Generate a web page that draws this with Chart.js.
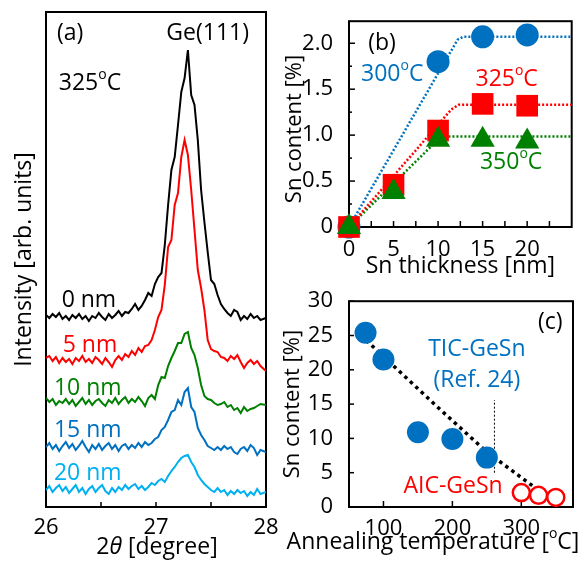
<!DOCTYPE html>
<html>
<head>
<meta charset="utf-8">
<script src="https://cdn.jsdelivr.net/npm/chart.js@4"></script>
<style>
  body { margin: 0; background: #fff; }
  #wrap { position: relative; width: 587px; height: 566px; overflow: hidden; }
  canvas { position: absolute; display: block; }
</style>
</head>
<body>
<div id="wrap">
  <canvas id="chartA" width="280" height="566" style="left:0;top:0"></canvas>
  <canvas id="chartB" width="307" height="280" style="left:280px;top:0"></canvas>
  <canvas id="chartC" width="307" height="286" style="left:280px;top:280px"></canvas>
</div>
<script>
// ---- (a) XRD profiles around Ge(111), offset per Sn thickness ----
const twoTheta = [
  26.00, 26.03, 26.06, 26.09, 26.12, 26.15, 26.18, 26.21, 26.24, 26.27,
  26.30, 26.33, 26.36, 26.39, 26.42, 26.45, 26.48, 26.51, 26.54, 26.57,
  26.60, 26.63, 26.66, 26.69, 26.72, 26.75, 26.78, 26.81, 26.84, 26.87,
  26.90, 26.93, 26.96, 26.99, 27.02, 27.05, 27.08, 27.11, 27.14, 27.17,
  27.20, 27.23, 27.26, 27.29, 27.32, 27.35, 27.38, 27.41, 27.44, 27.47,
  27.50, 27.53, 27.56, 27.59, 27.62, 27.65, 27.68, 27.71, 27.74, 27.77,
  27.80, 27.83, 27.86, 27.89, 27.92, 27.95, 28.00
];
const int0nm = [
  192, 189, 193, 190, 194, 188, 191, 187, 192, 189,
  193, 188, 191, 186, 191, 189, 194, 190, 187, 193,
  189, 192, 196, 191, 195, 194, 198, 203, 197, 201,
  207, 214, 211, 223, 230, 234, 262, 302, 337, 350,
  382, 415, 429, 457, 412, 402, 367, 317, 285, 255,
  227, 223, 212, 203, 198, 194, 191, 197, 195, 187,
  191, 188, 193, 189, 191, 187, 189
];
const int5nm = [
  149, 151, 146, 150, 144, 149, 145, 148, 143, 149,
  146, 151, 145, 148, 144, 150, 147, 143, 149, 145,
  140, 147, 151, 147, 153, 150, 156, 152, 159, 155,
  161, 162, 167, 177, 190, 197, 222, 260, 267, 302,
  314, 350, 367, 352, 317, 277, 237, 219, 197, 167,
  158, 156, 155, 150, 149, 146, 151, 148, 152, 145,
  139, 144, 147, 143, 146, 141, 136
];
const int10nm = [
  109, 105, 108, 102, 106, 104, 108, 103, 107, 101,
  105, 109, 103, 107, 102, 106, 108, 104, 101, 107,
  104, 109, 103, 107, 110, 104, 108, 105, 110, 106,
  101, 109, 112, 108, 122, 130, 129, 141, 149, 156,
  164, 164, 173, 175, 159, 152, 139, 122, 111, 108,
  107, 104, 102, 103, 105, 100, 102, 97, 99, 94,
  100, 96, 98, 99, 101, 103, 102
];
const int15nm = [
  60, 64, 58, 62, 56, 61, 65, 59, 63, 57,
  61, 66, 60, 55, 62, 58, 63, 57, 61, 64,
  58, 62, 56, 61, 63, 58, 62, 59, 64, 60,
  65, 62, 64, 68, 70, 77, 80, 87, 95, 97,
  107, 102, 115, 119, 100, 95, 79, 72, 67, 61,
  59, 57, 60, 57, 61, 58, 60, 55, 53, 58,
  60, 56, 62, 59, 52, 57, 55
];
const int20nm = [
  17, 21, 15, 19, 22, 16, 20, 14, 18, 22,
  15, 19, 13, 18, 21, 15, 19, 22, 16, 13,
  19, 15, 20, 17, 22, 18, 21, 23, 18, 21,
  17, 20, 24, 22, 26, 28, 25, 31, 36, 40,
  45, 49, 51, 52, 45, 40, 32, 27, 23, 20,
  17, 15, 19, 15, 17, 12, 16, 13, 17, 14,
  16, 11, 15, 12, 18, 13, 15
];
const xTicksA = [26, 26.5, 27, 27.5, 28];
const xLabelsA = ['26', '', '27', '', '28'];

// ---- (b) Sn content vs Sn thickness ----
const thick300 = [0, 10, 15, 20];
const sn300 = [0, 1.80, 2.07, 2.09];
const thick325 = [0, 5, 10, 15, 20];
const sn325 = [0, 0.46, 1.05, 1.34, 1.32];
const thick350 = [0, 5, 10, 15, 20];
const sn350 = [0, 0.38, 0.95, 0.95, 0.93];
const fit300X = [0, 12.2, 12.8, 25];
const fit300Y = [0, 2.04, 2.07, 2.07];
const fit325X = [0, 11.5, 12.3, 25];
const fit325Y = [0, 1.28, 1.33, 1.33];
const fit350X = [0, 10.1, 10.6, 25];
const fit350Y = [0, 0.96, 0.985, 0.985];
const xTicksB = [0, 2.5, 5, 7.5, 10, 12.5, 15, 17.5, 20, 22.5];
const xLabelsB = ['0', '', '5', '', '10', '', '15', '', '20', ''];
const yTicksB = [0, 0.25, 0.5, 0.75, 1, 1.25, 1.5, 1.75, 2];
const yLabelsB = ['0', '', '0.5', '', '1.0', '', '1.5', '', '2.0'];

// ---- (c) Sn content vs annealing temperature ----
const ticTemp = [74, 100, 150, 200, 250];
const ticSn = [25.4, 21.5, 10.9, 9.9, 7.2];
const aicTemp = [300, 325, 350];
const aicSn = [2.1, 1.7, 1.4];
const trendTemp = [75, 177, 249, 316];
const trendSn = [24.3, 14.7, 8.1, 3.1];
const markTemp = [261, 261];
const markSn = [5, 15.6];
const xTicksC = [100, 200, 300];
const xLabelsC = ['100', '200', '300'];
const yTicksC = [0, 5, 10, 15, 20, 25, 30];
const yLabelsC = ['0', '5', '10', '15', '20', '25', '30'];

const FONT = '"Open Sans", sans-serif';
Chart.defaults.font.family = FONT;
Chart.defaults.font.size = 22;
Chart.defaults.color = '#000';

const pts = (xs, ys) => xs.map((x, i) => ({ x: x, y: ys[i] }));

// text with optional superscript / italic parts, centred on (cx, cy)
function drawRich(ctx, parts, cx, cy, color, size, rot) {
  const segs = parts.map(p => Array.isArray(p) ? { t: p[0], kind: p[1] } : { t: p, kind: '' });
  const fontFor = k => k === 'sup' ? Math.round(size * 0.62) + 'px ' + FONT
    : k === 'i' ? 'italic ' + size + 'px ' + FONT : size + 'px ' + FONT;
  let total = 0;
  segs.forEach(s => { ctx.font = fontFor(s.kind); s.w = ctx.measureText(s.t).width; total += s.w; });
  ctx.save();
  ctx.translate(cx, cy);
  if (rot) ctx.rotate(rot);
  ctx.fillStyle = color;
  ctx.textBaseline = 'middle';
  ctx.textAlign = 'left';
  let x = -total / 2;
  segs.forEach(s => {
    ctx.font = fontFor(s.kind);
    ctx.fillText(s.t, x, s.kind === 'sup' ? -size * 0.36 : 0);
    x += s.w;
  });
  ctx.restore();
}

// box frame, inward tick marks and free text
const framePlugin = {
  id: 'frame',
  beforeDatasetsDraw(chart, args, opts) {
    const { ctx, chartArea: a, scales } = chart;
    ctx.save();
    ctx.strokeStyle = '#000';
    ctx.lineWidth = 1.5;
    (opts.tickAxes || []).forEach(ax => {
      const s = scales[ax.id];
      s.ticks.forEach(t => {
        const p = s.getPixelForValue(t.value);
        const len = t.label ? ax.major : ax.minor;
        ctx.beginPath();
        if (ax.id === 'x') { ctx.moveTo(p, a.bottom); ctx.lineTo(p, a.bottom - len); }
        else { ctx.moveTo(a.left, p); ctx.lineTo(a.left + len, p); }
        ctx.stroke();
      });
    });
    ctx.lineWidth = 2;
    ctx.strokeRect(a.left, a.top, a.right - a.left, a.bottom - a.top);
    ctx.restore();
  },
  afterDatasetsDraw(chart, args, opts) {
    const { ctx, scales } = chart;
    (opts.notes || []).forEach(n => drawRich(ctx, n.parts, scales.x.getPixelForValue(n.x),
      scales.y.getPixelForValue(n.y), n.color, 23));
    (opts.titles || []).forEach(n => drawRich(ctx, n.parts, n.px, n.py, '#000', n.size, n.rot));
  }
};

function axis(min, max, ticks, labels, fitSize, horizontal, pad) {
  return {
    type: 'linear', min: min, max: max,
    afterFit: s => { if (horizontal) s.height = fitSize; else s.width = fitSize; },
    afterBuildTicks: s => { s.ticks = ticks.map(v => ({ value: v })); },
    grid: { display: false }, border: { display: false },
    ticks: { autoSkip: false, maxRotation: 0, padding: pad, display: labels.length > 0,
      callback: (v, i) => labels[i] }
  };
}

const baseOptions = (padding, scales, frame) => ({
  responsive: false, animation: false, events: [],
  layout: { padding: padding },
  plugins: { legend: { display: false }, tooltip: { enabled: false }, frame: frame },
  scales: scales
});

// (a)
const trace = (vals, color) => ({
  data: pts(twoTheta, vals), showLine: true, borderColor: color,
  borderWidth: 2, pointRadius: 0, tension: 0
});
const yA = axis(0, 495, [], [], 46, false, 0);
yA.title = { display: true, text: 'Intensity [arb. units]', font: { size: 23 }, padding: { top: 11, bottom: 0 } };
new Chart(document.getElementById('chartA'), {
  type: 'scatter',
  data: { datasets: [
    trace(int0nm, '#000000'), trace(int5nm, '#FF0000'), trace(int10nm, '#008000'),
    trace(int15nm, '#0070C0'), trace(int20nm, '#00B0F0')
  ] },
  options: baseOptions({ left: 0, top: 12, right: 14, bottom: 0 },
    { x: axis(26, 28, xTicksA, xLabelsA, 59, true, 0), y: yA },
    {
      tickAxes: [{ id: 'x', major: 5, minor: 5 }],
      notes: [
        { parts: ['(a)'], x: 26.22, y: 474, color: '#000' },
        { parts: ['Ge(111)'], x: 27.47, y: 474, color: '#000' },
        { parts: ['325', ['o', 'sup'], 'C'], x: 26.40, y: 424, color: '#000' },
        { parts: ['0 nm'], x: 26.39, y: 207, color: '#000' },
        { parts: ['5 nm'], x: 26.40, y: 162, color: '#FF0000' },
        { parts: ['10 nm'], x: 26.38, y: 119, color: '#008000' },
        { parts: ['15 nm'], x: 26.38, y: 77, color: '#0070C0' },
        { parts: ['20 nm'], x: 26.38, y: 34, color: '#00B0F0' }
      ],
      titles: [{ parts: ['2', ['θ', 'i'], ' [degree]'], px: 157, py: 547, size: 23 }]
    }),
  plugins: [framePlugin]
});

// (b)
const fitLine = (xs, ys, color) => ({
  data: pts(xs, ys), showLine: true, borderColor: color, borderWidth: 2.5,
  borderDash: [2, 2], pointRadius: 0, order: 10, clip: false
});
const marks = (xs, ys, color, style, r, order) => ({
  data: pts(xs, ys), showLine: false, pointStyle: style, pointRadius: r,
  backgroundColor: color, borderWidth: 0, order: order, clip: false
});
const xB = axis(0, 25, xTicksB, xLabelsB, 53, true, 2);
xB.title = { display: true, text: 'Sn thickness [nm]', font: { size: 23 }, padding: { top: 0, bottom: 0 } };
new Chart(document.getElementById('chartB'), {
  type: 'scatter',
  data: { datasets: [
    fitLine(fit300X, fit300Y, '#0070C0'), fitLine(fit325X, fit325Y, '#FF0000'),
    fitLine(fit350X, fit350Y, '#008000'),
    marks(thick300, sn300, '#0070C0', 'circle', 11.5, 3),
    marks(thick325, sn325, '#FF0000', 'rect', 15.3, 2),
    marks(thick350, sn350, '#008000', 'triangle', 14, 1)
  ] },
  options: baseOptions({ left: 0, top: 12, right: 12, bottom: 0 },
    { x: xB, y: axis(0, 2.24, yTicksB, yLabelsB, 69, false, 8) },
    {
      tickAxes: [{ id: 'x', major: 6, minor: 6 }, { id: 'y', major: 6, minor: 3 }],
      notes: [
        { parts: ['(b)'], x: 3.7, y: 2.0, color: '#000' },
        { parts: ['300', ['o', 'sup'], 'C'], x: 4.85, y: 1.66, color: '#0070C0' },
        { parts: ['325', ['o', 'sup'], 'C'], x: 17.7, y: 1.61, color: '#FF0000' },
        { parts: ['350', ['o', 'sup'], 'C'], x: 18.2, y: 0.70, color: '#008000' }
      ],
      titles: [{ parts: ['Sn content [%]'], px: 15, py: 129, size: 22, rot: -Math.PI / 2 }]
    }),
  plugins: [framePlugin]
});

// (c)
const yC = axis(0, 30, yTicksC, yLabelsC, 69, false, 8);
yC.title = { display: true, text: 'Sn content [%]', font: { size: 22 }, padding: { top: 0, bottom: 0 } };
new Chart(document.getElementById('chartC'), {
  type: 'scatter',
  data: { datasets: [
    { data: pts(trendTemp, trendSn), showLine: true, borderColor: '#000', borderWidth: 3.5,
      borderDash: [3.5, 4], pointRadius: 0, order: 10 },
    { data: pts(markTemp, markSn), showLine: true, borderColor: '#000', borderWidth: 1,
      borderDash: [2, 2], pointRadius: 0, order: 9 },
    marks(ticTemp, ticSn, '#0070C0', 'circle', 11, 2),
    { data: pts(aicTemp, aicSn), showLine: false, pointStyle: 'circle', pointRadius: 8.5,
      backgroundColor: '#fff', borderColor: '#FF0000', borderWidth: 2.5, order: 1, clip: false }
  ] },
  options: baseOptions({ left: 0, top: 13, right: 14, bottom: 0 },
    { x: axis(50, 375, xTicksC, xLabelsC, 59, true, 1), y: yC },
    {
      tickAxes: [{ id: 'x', major: 6, minor: 6 }, { id: 'y', major: 5, minor: 5 }],
      notes: [
        { parts: ['(c)'], x: 342, y: 26.9, color: '#000' },
        { parts: ['TIC-GeSn'], x: 235.5, y: 22.9, color: '#0070C0' },
        { parts: ['(Ref. 24)'], x: 235.5, y: 18.4, color: '#0070C0' },
        { parts: ['AIC-GeSn'], x: 201, y: 3.0, color: '#FF0000' }
      ],
      titles: [{ parts: ['Annealing temperature [', ['o', 'sup'], 'C]'], px: 153, py: 262, size: 23 }]
    }),
  plugins: [framePlugin]
});
</script>
</body>
</html>
